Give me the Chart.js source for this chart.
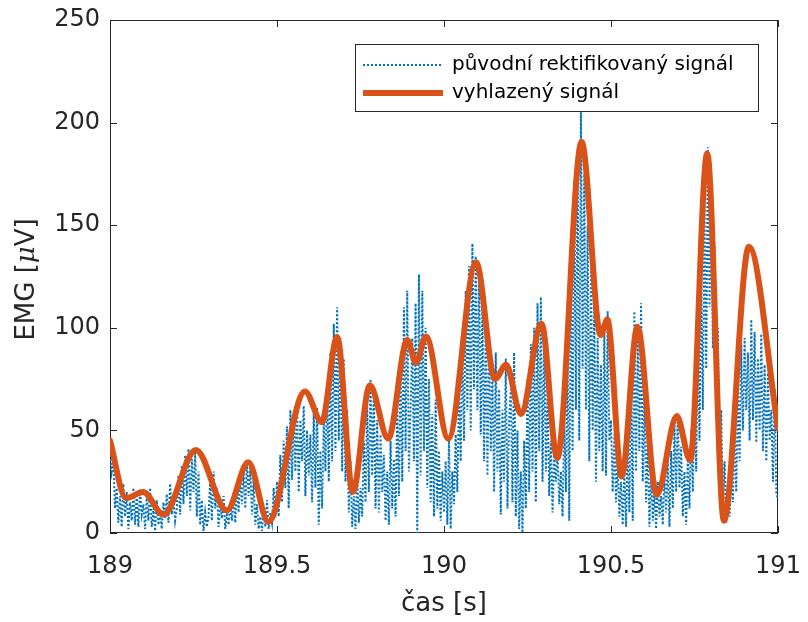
<!DOCTYPE html>
<html>
<head>
<meta charset="utf-8">
<script src="https://cdn.jsdelivr.net/npm/chart.js@4/dist/chart.umd.min.js"></script>
<style>
  html, body { margin: 0; padding: 0; background: #fff; }
  canvas { display: block; }
</style>
</head>
<body>
<canvas id="emg" width="808" height="622"></canvas>
<script>
// raw rectified EMG, one value every 5 ms from 189 s
var rawStart = 189;
var rawStep = 0.005;
var rawValues = [
  40, 30, 36, 12, 22, 5, 18, 3, 24, 8, 20, 2, 15, 6, 22, 4, 19, 3, 21, 9,
  14, 2, 18, 6, 22, 3, 12, 1, 16, 4, 10, 2, 15, 7, 19, 5, 24, 9, 17, 6,
  12, 28, 9, 33, 14, 38, 18, 41, 11, 36, 20, 39, 8, 30, 4, 16, 1, 10, 3, 8,
  26, 6, 30, 12, 22, 3, 14, 7, 18, 2, 9, 4, 15, 6, 20, 5, 24, 10, 28, 14,
  30, 12, 35, 18, 32, 9, 26, 4, 14, 2, 8, 1, 12, 3, 16, 2, 10, 5, 22, 8,
  25, 8, 38, 15, 45, 22, 52, 12, 60, 26, 58, 30, 64, 20, 55, 35, 62, 18, 50, 28,
  48, 15, 58, 22, 61, 4, 40, 12, 55, 30, 72, 25, 88, 35, 102, 40, 110, 45, 95, 30,
  85, 25, 60, 10, 35, 3, 18, 2, 28, 5, 22, 8, 45, 15, 62, 20, 75, 28, 70, 12,
  55, 10, 48, 20, 38, 6, 30, 4, 45, 12, 36, 8, 62, 18, 85, 25, 110, 40, 118, 30,
  60, 95, 35, 112, 0, 126, 28, 118, 40, 100, 22, 75, 15, 58, 8, 65, 12, 40, 6, 30,
  10, 35, 4, 45, 2, 30, 14, 48, 20, 70, 35, 95, 45, 118, 60, 130, 50, 141, 70, 135,
  60, 128, 48, 110, 35, 104, 28, 95, 40, 78, 20, 88, 30, 70, 9, 60, 25, 85, 12, 55,
  70, 15, 88, 8, 50, 2, 30, 0, 45, 12, 75, 20, 92, 30, 100, 15, 112, 40, 115, 25,
  95, 30, 70, 18, 45, 10, 38, 25, 40, 14, 30, 8, 55, 20, 90, 6, 130, 40, 172, 60,
  185, 45, 205, 80, 175, 60, 150, 35, 130, 50, 110, 25, 95, 40, 82, 30, 100, 28, 108, 45,
  55, 20, 48, 15, 35, 8, 25, 4, 30, 3, 45, 10, 80, 6, 108, 30, 95, 40, 112, 25,
  70, 15, 45, 3, 30, 6, 20, 2, 25, 8, 18, 4, 30, 10, 35, 3, 40, 12, 55, 20,
  58, 22, 42, 8, 30, 4, 38, 12, 50, 20, 70, 30, 95, 45, 125, 60, 160, 80, 188, 110,
  165, 90, 140, 55, 100, 30, 60, 12, 35, 5, 20, 8, 30, 15, 50, 20, 70, 35, 92, 50,
  95, 60, 88, 45, 104, 55, 98, 44, 85, 50, 97, 40, 82, 35, 78, 45, 60, 25, 70, 19, 17
];

// smoothed envelope, turning points
var smoothTimes = [
  189.000, 189.048, 189.099, 189.160, 189.257, 189.350, 189.414, 189.474,
  189.584, 189.634, 189.680, 189.727, 189.778, 189.833, 189.890, 189.916,
  189.946, 190.013, 190.096, 190.153, 190.186, 190.230, 190.292, 190.339,
  190.412, 190.469, 190.489, 190.532, 190.579, 190.637, 190.697, 190.737,
  190.788, 190.838, 190.913, 191.000
];
var smoothValues = [
  45, 17, 20, 9, 40.5, 11, 34.5, 5.5,
  69, 54, 95.5, 20, 72, 46, 94, 83,
  95.7, 46, 132, 75, 82, 58, 102, 36.5,
  190.5, 96.5, 104, 27.5, 100.5, 18.5, 57, 35.5,
  185, 6, 139.5, 51
];

var xTicks = [189, 189.5, 190, 190.5, 191];
var yTicks = [0, 50, 100, 150, 200, 250];
var seriesNames = ['původní rektifikovaný signál', 'vyhlazený signál'];
var xTitle = 'čas [s]';
var yTitle = ['EMG [', 'μ', 'V]'];   // middle part is set in italics

var blue = '#0072BD';
var orange = '#D95319';
var ink = '#262626';
var fontName = '"DejaVu Sans", sans-serif';

Chart.defaults.font.family = fontName;
Chart.defaults.color = ink;

var rawPoints = rawValues.map(function(v, i) {
  return { x: rawStart + i * rawStep, y: v };
});
var smoothPoints = smoothTimes.map(function(t, i) {
  return { x: t, y: smoothValues[i] };
});

// white page behind the chart
var paper = {
  id: 'paper',
  beforeDraw: function(chart) {
    var ctx = chart.ctx;
    ctx.save();
    ctx.fillStyle = '#fff';
    ctx.fillRect(0, 0, chart.width, chart.height);
    ctx.restore();
  }
};

// box round the axes with ticks pointing inwards
var axesBox = {
  id: 'axesBox',
  beforeDatasetsDraw: function(chart) {
    var ctx = chart.ctx, a = chart.chartArea;
    var xs = chart.scales.x, ys = chart.scales.y;
    var len = 7;
    ctx.save();
    ctx.strokeStyle = ink;
    ctx.lineWidth = 1;
    ctx.strokeRect(a.left + 0.5, a.top + 0.5, a.right - a.left - 1, a.bottom - a.top - 1);
    ctx.beginPath();
    xTicks.forEach(function(v) {
      var px = Math.round(xs.getPixelForValue(v)) + 0.5;
      ctx.moveTo(px, a.bottom); ctx.lineTo(px, a.bottom - len);
      ctx.moveTo(px, a.top); ctx.lineTo(px, a.top + len);
    });
    yTicks.forEach(function(v) {
      var py = Math.round(ys.getPixelForValue(v)) + 0.5;
      ctx.moveTo(a.left, py); ctx.lineTo(a.left + len, py);
      ctx.moveTo(a.right, py); ctx.lineTo(a.right - len, py);
    });
    ctx.stroke();
    ctx.restore();
  }
};

// legend box in the upper right corner of the axes
var boxLegend = {
  id: 'boxLegend',
  afterDatasetsDraw: function(chart) {
    var ctx = chart.ctx, a = chart.chartArea;
    var l = a.left + 245, t = a.top + 24, r = a.right - 20, b = t + 67;
    var rows = [t + 21, t + 49];
    ctx.save();
    ctx.fillStyle = '#fff';
    ctx.fillRect(l, t, r - l, b - t);
    ctx.strokeStyle = ink;
    ctx.lineWidth = 1;
    ctx.strokeRect(l + 0.5, t + 0.5, r - l, b - t);

    ctx.beginPath();
    ctx.strokeStyle = blue;
    ctx.lineWidth = 2;
    ctx.setLineDash([2, 2]);
    ctx.moveTo(l + 8, rows[0]); ctx.lineTo(l + 88, rows[0]);
    ctx.stroke();

    ctx.beginPath();
    ctx.setLineDash([]);
    ctx.strokeStyle = orange;
    ctx.lineWidth = 6;
    ctx.moveTo(l + 8, rows[1]); ctx.lineTo(l + 88, rows[1]);
    ctx.stroke();

    ctx.fillStyle = '#000';
    ctx.font = '20px ' + fontName;
    ctx.textBaseline = 'middle';
    ctx.fillText(seriesNames[0], l + 97, rows[0]);
    ctx.fillText(seriesNames[1], l + 97, rows[1]);
    ctx.restore();
  }
};

// y axis title with an italic mu, turned on its side
var yLabel = {
  id: 'yLabel',
  afterDraw: function(chart) {
    var ctx = chart.ctx, a = chart.chartArea;
    var fonts = ['26px ' + fontName, 'italic 26px "DejaVu Serif", serif', '26px ' + fontName];
    var widths = yTitle.map(function(s, i) {
      ctx.font = fonts[i];
      return ctx.measureText(s).width;
    });
    var total = widths.reduce(function(s, w) { return s + w; }, 0);
    ctx.save();
    ctx.translate(27, (a.top + a.bottom) / 2 + 3);
    ctx.rotate(-Math.PI / 2);
    ctx.fillStyle = ink;
    ctx.textBaseline = 'middle';
    ctx.textAlign = 'left';
    var x = -total / 2;
    yTitle.forEach(function(s, i) {
      ctx.font = fonts[i];
      ctx.fillText(s, x, 0);
      x += widths[i];
    });
    ctx.restore();
  }
};

var config = {
  type: 'line',
  data: {
    datasets: [{
      label: seriesNames[1],
      data: smoothPoints,
      borderColor: orange,
      borderWidth: 6,
      borderJoinStyle: 'round',
      borderCapStyle: 'round',
      cubicInterpolationMode: 'monotone',
      pointRadius: 0,
      fill: false,
      order: 0
    }, {
      label: seriesNames[0],
      data: rawPoints,
      borderColor: blue,
      borderWidth: 2,
      borderDash: [2, 2],
      tension: 0,
      pointRadius: 0,
      fill: false,
      order: 1
    }]
  },
  options: {
    responsive: false,
    animation: false,
    layout: { padding: { top: 20, right: 30, left: 0, bottom: 0 } },
    plugins: {
      legend: { display: false },
      tooltip: { enabled: false }
    },
    scales: {
      x: {
        type: 'linear',
        min: 189,
        max: 191,
        grid: { display: false, drawTicks: false },
        border: { display: false },
        afterBuildTicks: function(scale) {
          scale.ticks = xTicks.map(function(v) { return { value: v }; });
        },
        afterFit: function(scale) {
          scale.height = 89;
          scale.paddingLeft = 0;
          scale.paddingRight = 0;
        },
        ticks: {
          font: { size: 24 },
          color: ink,
          padding: 19,
          maxRotation: 0,
          autoSkip: false,
          callback: function(v) { return String(v); }
        },
        title: {
          display: true,
          text: xTitle,
          font: { size: 26 },
          color: ink,
          padding: { top: 0, bottom: 2 }
        }
      },
      y: {
        type: 'linear',
        min: 0,
        max: 250,
        grid: { display: false, drawTicks: false },
        border: { display: false },
        afterBuildTicks: function(scale) {
          scale.ticks = yTicks.map(function(v) { return { value: v }; });
        },
        afterFit: function(scale) {
          scale.width = 110;
          scale.paddingTop = 0;
          scale.paddingBottom = 0;
        },
        ticks: {
          font: { size: 24 },
          color: ink,
          padding: 10,
          autoSkip: false,
          callback: function(v) { return String(v); }
        },
        title: { display: false }
      }
    }
  },
  plugins: [paper, axesBox, boxLegend, yLabel]
};

var ctx = document.getElementById('emg').getContext('2d');
var emgChart = new Chart(ctx, config);
</script>
</body>
</html>
